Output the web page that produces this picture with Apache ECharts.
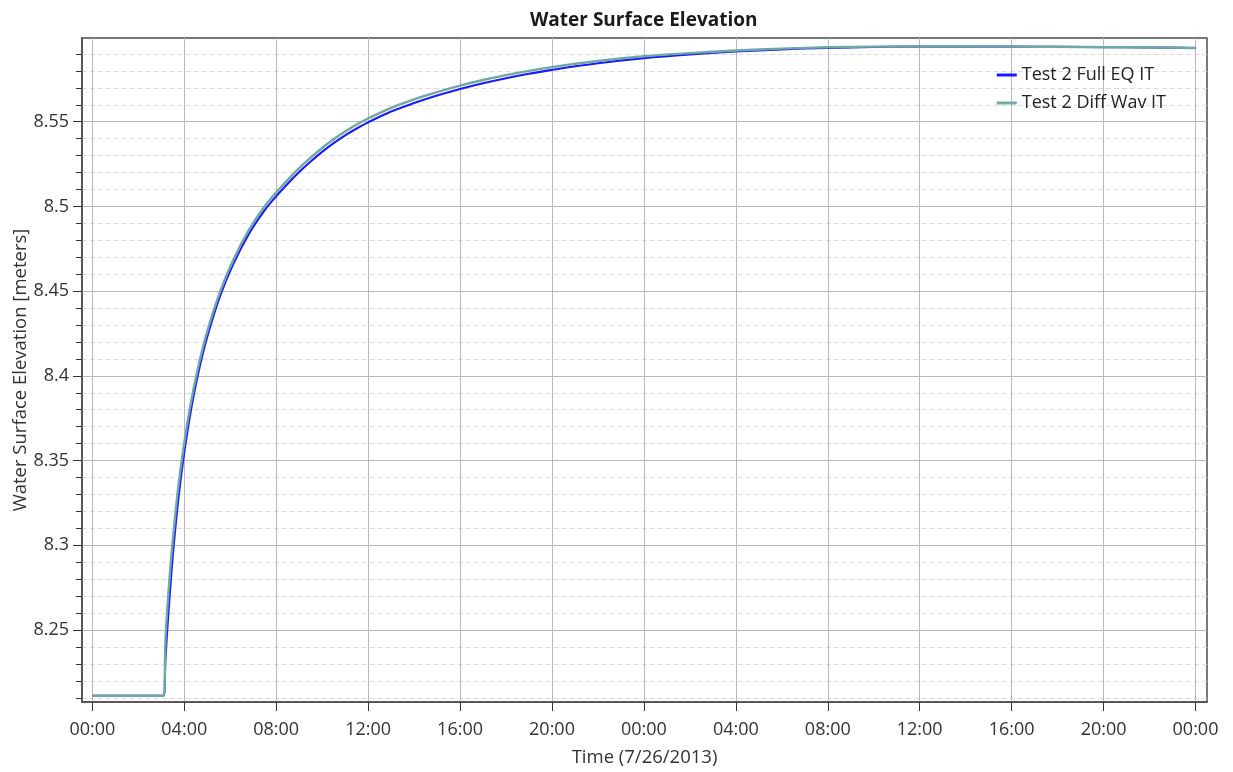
<!DOCTYPE html>
<html><head><meta charset="utf-8">
<script src="https://cdn.jsdelivr.net/npm/echarts@6/dist/echarts.min.js"></script>
<style>html,body{margin:0;padding:0;background:#fff}#c{width:1233px;height:772px}</style>
</head><body><div id="c"></div>
<script>
// time in hours since 7/26/2013 00:00
const hours = [0, 3.09, 3.18, 3.26, 3.40, 3.54, 3.75, 3.96, 4.25, 4.60, 5.00, 5.56, 6.13, 6.80, 7.50, 8.0, 8.5, 9.0, 9.5, 10.0, 10.5, 11.0, 11.5, 12.0, 13.0, 14.0, 15.0, 16.0, 17.0, 18.0, 19.0, 20.0, 22.0, 24.0, 26.0, 28.0, 30.0, 32.0, 34.0, 36.0, 38.0, 40.0, 42.0, 44.0, 46.0, 48.0];
const fullEqIT = [8.2112, 8.2112, 8.2326, 8.2502, 8.2768, 8.2999, 8.3283, 8.3510, 8.3766, 8.4011, 8.4231, 8.4472, 8.4660, 8.4835, 8.4978, 8.5060, 8.5134, 8.5203, 8.5265, 8.5322, 8.5373, 8.5419, 8.5460, 8.5496, 8.5560, 8.5610, 8.5654, 8.5693, 8.5727, 8.5757, 8.5783, 8.5806, 8.5845, 8.5875, 8.5897, 8.5914, 8.5927, 8.5936, 8.5941, 8.5943, 8.5943, 8.5943, 8.5942, 8.5940, 8.5938, 8.5935];
const diffWavIT = [8.2112, 8.2112, 8.2440, 8.2620, 8.2878, 8.3088, 8.3356, 8.3568, 8.3813, 8.4048, 8.4262, 8.4497, 8.4683, 8.4858, 8.5001, 8.5083, 8.5157, 8.5226, 8.5288, 8.5345, 8.5396, 8.5442, 8.5483, 8.5519, 8.5582, 8.5632, 8.5675, 8.5713, 8.5746, 8.5775, 8.5800, 8.5822, 8.5858, 8.5886, 8.5905, 8.5920, 8.5931, 8.5939, 8.5943, 8.5944, 8.5944, 8.5943, 8.5942, 8.5940, 8.5938, 8.5935];

const xTickHours = [0, 4, 8, 12, 16, 20, 24, 28, 32, 36, 40, 44, 48];
const xTickLabels = ['00:00', '04:00', '08:00', '12:00', '16:00', '20:00', '00:00', '04:00', '08:00', '12:00', '16:00', '20:00', '00:00'];
const yMajorTicks = [8.25, 8.30, 8.35, 8.40, 8.45, 8.50, 8.55];
const yMajorLabels = ['8.25', '8.3', '8.35', '8.4', '8.45', '8.5', '8.55'];
const yMinorTicks = [8.21, 8.22, 8.23, 8.24, 8.26, 8.27, 8.28, 8.29, 8.31, 8.32, 8.33, 8.34, 8.36, 8.37, 8.38, 8.39, 8.41, 8.42, 8.43, 8.44, 8.46, 8.47, 8.48, 8.49, 8.51, 8.52, 8.53, 8.54, 8.56, 8.57, 8.58, 8.59];
const seriesNames = ['Test 2 Full EQ IT', 'Test 2 Diff Wav IT'];

const FONT = "'Open Sans', 'Noto Sans', 'DejaVu Sans', sans-serif";
const X_MIN = -0.45, X_MAX = 48.5;
const Y_MIN = 8.2075, Y_MAX = 8.5994;
const BLUE = '#1a1aff', TEAL = '#6fa8a4';

function labelFor(ticks, labels, v) {
  for (let i = 0; i < ticks.length; i++) if (Math.abs(ticks[i] - v) < 1e-6) return labels[i];
  return '';
}

const chart = echarts.init(document.getElementById('c'), null, {renderer: 'canvas'});
chart.setOption({
  animation: false,
  backgroundColor: '#ffffff',
  textStyle: {fontFamily: FONT},
  title: {
    text: 'Water Surface Elevation',
    left: 525, top: 6,
    textStyle: {fontFamily: FONT, fontSize: 19, fontWeight: 'bold', color: '#1a1a1a'}
  },
  legend: {
    orient: 'vertical',
    right: 62, top: 58,
    itemWidth: 20, itemHeight: 3, itemGap: 4,
    icon: 'rect',
    data: [
      {name: seriesNames[0], itemStyle: {color: BLUE}},
      {name: seriesNames[1], itemStyle: {color: TEAL}}
    ],
    textStyle: {fontFamily: FONT, fontSize: 18, color: '#222', lineHeight: 24}
  },
  grid: {
    left: 82, right: 26, top: 38, bottom: 70,
    show: true, borderColor: '#4d4d4d', borderWidth: 1.5,
    outerBoundsMode: 'none', containLabel: false
  },
  xAxis: {
    type: 'value', min: X_MIN, max: X_MAX,
    name: 'Time (7/26/2013)', nameLocation: 'middle', nameGap: 46, nameMoveOverlap: false,
    nameTextStyle: {fontFamily: FONT, fontSize: 18.5, color: '#333'},
    axisLine: {show: true, onZero: false, lineStyle: {color: '#4d4d4d', width: 1.5}},
    axisTick: {show: true, length: 9, lineStyle: {color: '#333'}, customValues: xTickHours},
    axisLabel: {show: true, margin: 19, fontFamily: FONT, fontSize: 18, color: '#333',
      customValues: xTickHours,
      formatter: v => labelFor(xTickHours, xTickLabels, v)},
    splitLine: {show: true, lineStyle: {color: '#b8b8b8', width: 1}}
  },
  yAxis: [{
    type: 'value', min: Y_MIN, max: Y_MAX, position: 'left',
    name: 'Water Surface Elevation [meters]', nameLocation: 'middle', nameGap: 52, nameMoveOverlap: false,
    nameTextStyle: {fontFamily: FONT, fontSize: 18.5, color: '#333'},
    axisLine: {show: true, onZero: false, lineStyle: {color: '#4d4d4d', width: 1.5}},
    axisTick: {show: true, length: 9, lineStyle: {color: '#333'}, customValues: yMajorTicks},
    axisLabel: {show: true, margin: 13, fontFamily: FONT, fontSize: 18, color: '#333',
      customValues: yMajorTicks,
      formatter: v => labelFor(yMajorTicks, yMajorLabels, v)},
    splitLine: {show: true, lineStyle: {color: '#b8b8b8', width: 1}}
  }, {
    type: 'value', min: Y_MIN, max: Y_MAX, position: 'left', offset: 0,
    axisLine: {show: false, onZero: false},
    axisTick: {show: true, length: 6, lineStyle: {color: '#333'}, customValues: yMinorTicks},
    axisLabel: {show: false, customValues: yMinorTicks},
    splitLine: {show: true, lineStyle: {color: '#dcdcdc', width: 1, type: [5, 3]}}
  }],
  series: [{
    name: seriesNames[0], type: 'line', yAxisIndex: 0,
    data: hours.map((h, i) => [h, fullEqIT[i]]),
    showSymbol: false, symbol: 'none', smooth: 0.35,
    lineStyle: {color: BLUE, width: 2.1},
    itemStyle: {color: BLUE}, z: 2
  }, {
    name: seriesNames[1], type: 'line', yAxisIndex: 0,
    data: hours.map((h, i) => [h, diffWavIT[i]]),
    showSymbol: false, symbol: 'none', smooth: 0.35,
    lineStyle: {color: TEAL, width: 2.4},
    itemStyle: {color: TEAL}, z: 3
  }]
});
</script></body></html>
